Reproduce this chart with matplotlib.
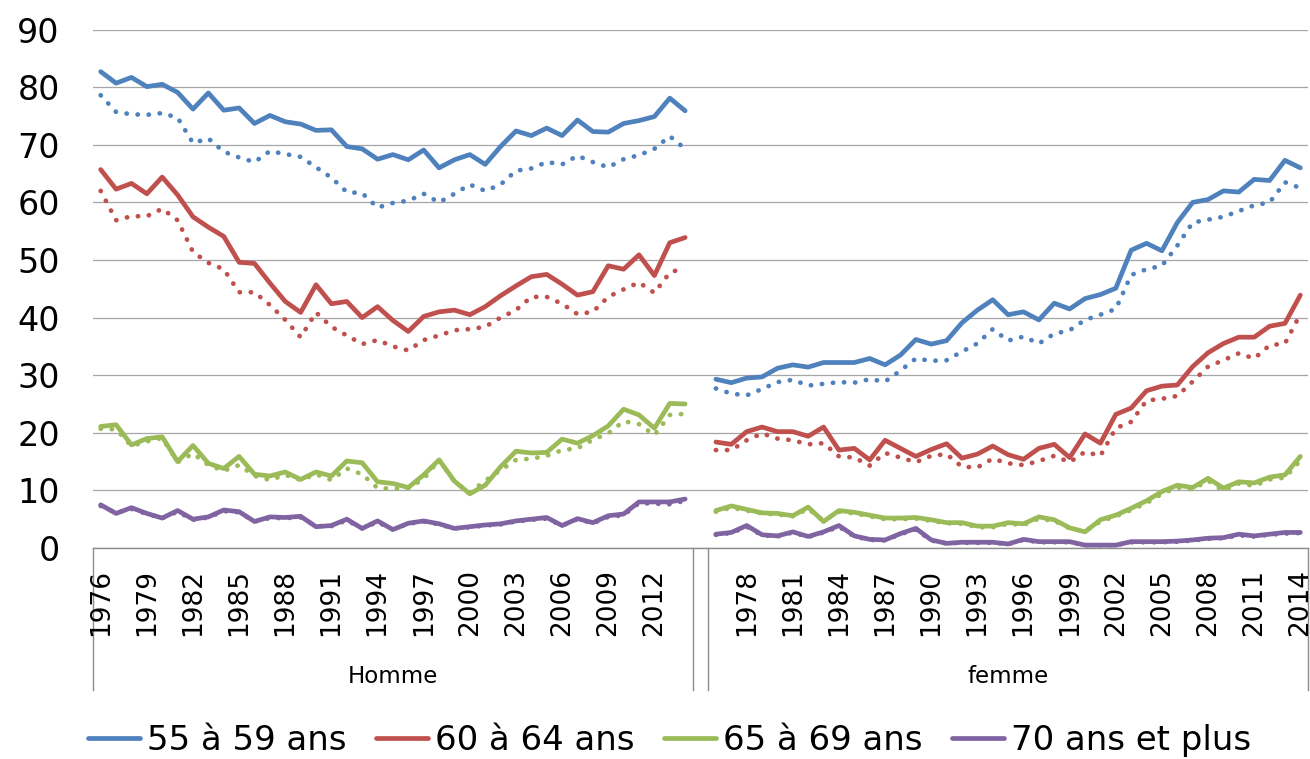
import matplotlib
matplotlib.use("Agg")
import matplotlib.pyplot as plt
import numpy as np

# ---- data -------------------------------------------------------------
YEARS = list(range(1976, 2015))
GROUPS = ["Homme", "femme"]
SERIES = ["55 à 59 ans", "60 à 64 ans", "65 à 69 ans", "70 ans et plus"]
COLORS = ["#4F81BD", "#C0504D", "#9BBB59", "#8064A2"]

# Homme, solid lines
h_55 = [82.7, 80.7, 81.7, 80.1, 80.5, 79.1, 76.2, 79.0, 76.0, 76.4, 73.7, 75.1, 74.0,
        73.6, 72.5, 72.6, 69.7, 69.3, 67.5, 68.3, 67.4, 69.1, 66.0, 67.4, 68.3, 66.6,
        69.7, 72.4, 71.6, 72.9, 71.6, 74.3, 72.3, 72.2, 73.7, 74.2, 74.9, 78.1, 75.9]
h_60 = [65.7, 62.3, 63.3, 61.5, 64.4, 61.3, 57.5, 55.7, 54.1, 49.6, 49.4, 46.0, 42.8,
        40.9, 45.7, 42.4, 42.8, 40.0, 41.9, 39.5, 37.6, 40.2, 41.0, 41.3, 40.5, 41.9,
        43.8, 45.5, 47.1, 47.5, 45.8, 43.9, 44.5, 49.0, 48.4, 50.9, 47.3, 53.0, 53.9]
h_65 = [21.1, 21.4, 17.9, 19.0, 19.3, 15.0, 17.8, 14.7, 13.8, 15.9, 12.8, 12.5, 13.2,
        11.9, 13.2, 12.5, 15.1, 14.8, 11.5, 11.2, 10.5, 12.7, 15.3, 11.6, 9.4, 10.9,
        14.1, 16.8, 16.5, 16.6, 18.9, 18.2, 19.5, 21.2, 24.1, 23.1, 20.8, 25.1, 25.0]
h_70 = [7.5, 6.0, 7.0, 6.0, 5.2, 6.5, 5.0, 5.4, 6.6, 6.3, 4.6, 5.4, 5.3,
        5.5, 3.7, 3.9, 5.0, 3.4, 4.7, 3.2, 4.3, 4.7, 4.2, 3.4, 3.7, 4.0,
        4.2, 4.7, 5.0, 5.3, 3.9, 5.1, 4.4, 5.6, 5.9, 8.0, 8.0, 8.0, 8.5]

# Homme, dotted lines
h_55_dot = [78.6, 75.7, 75.3, 75.2, 75.5, 74.7, 70.3, 71.1, 68.8, 67.8, 67.0, 68.9, 68.4,
            67.9, 66.1, 64.3, 61.8, 61.6, 59.1, 59.9, 60.3, 61.5, 60.0, 61.5, 63.1, 62.0,
            63.1, 65.5, 65.9, 67.0, 66.6, 68.1, 67.0, 66.1, 67.5, 68.2, 69.3, 71.5, 69.3]
h_60_dot = [62.0, 56.9, 57.6, 57.6, 58.9, 56.9, 51.4, 49.5, 48.4, 44.4, 44.4, 42.2, 39.6,
            36.6, 40.9, 38.4, 36.9, 35.4, 36.1, 35.0, 34.3, 36.1, 36.9, 37.8, 38.0, 38.4,
            40.0, 41.3, 43.6, 43.6, 42.4, 40.6, 41.0, 43.6, 44.9, 46.1, 44.3, 47.8, 48.7]
h_65_dot = [20.7, 20.6, 17.7, 18.5, 19.1, 14.9, 16.4, 14.4, 13.4, 14.4, 12.5, 11.8, 12.7,
            11.8, 12.8, 11.8, 13.8, 12.8, 10.4, 10.3, 10.4, 12.0, 15.3, 11.5, 9.6, 11.7,
            13.5, 15.3, 15.5, 16.0, 17.0, 17.3, 18.8, 19.9, 22.0, 21.5, 19.6, 23.1, 23.3]
h_70_dot = [7.3, 6.1, 6.8, 5.9, 5.2, 6.3, 4.9, 5.3, 6.4, 6.2, 4.6, 5.2, 5.2,
            5.3, 3.8, 3.8, 4.8, 3.4, 4.5, 3.2, 4.2, 4.6, 4.1, 3.4, 3.6, 3.9,
            4.1, 4.6, 4.9, 5.1, 3.9, 5.0, 4.3, 5.4, 5.7, 7.8, 7.7, 7.6, 8.2]

# femme, solid lines
f_55 = [29.3, 28.7, 29.5, 29.7, 31.2, 31.8, 31.4, 32.2, 32.2, 32.2, 32.9, 31.8, 33.5,
        36.2, 35.4, 36.0, 39.1, 41.3, 43.1, 40.5, 41.0, 39.6, 42.5, 41.5, 43.3, 44.0,
        45.1, 51.7, 52.9, 51.6, 56.5, 60.0, 60.5, 62.0, 61.8, 64.0, 63.8, 67.3, 66.0]
f_60 = [18.4, 18.0, 20.2, 21.0, 20.2, 20.2, 19.4, 21.0, 17.0, 17.3, 15.3, 18.7, 17.3,
        15.9, 17.1, 18.1, 15.6, 16.3, 17.7, 16.2, 15.4, 17.3, 18.0, 15.7, 19.8, 18.2,
        23.2, 24.3, 27.3, 28.1, 28.3, 31.5, 33.9, 35.5, 36.6, 36.6, 38.5, 39.0, 43.9]
f_65 = [6.5, 7.3, 6.7, 6.1, 6.0, 5.6, 7.1, 4.6, 6.5, 6.2, 5.7, 5.2, 5.2,
        5.3, 4.9, 4.4, 4.4, 3.8, 3.8, 4.4, 4.2, 5.4, 4.9, 3.5, 2.8, 4.9,
        5.7, 6.9, 8.2, 9.8, 10.9, 10.5, 12.1, 10.4, 11.5, 11.3, 12.3, 12.7, 15.9]
f_70 = [2.4, 2.7, 3.9, 2.3, 2.1, 2.8, 2.0, 2.8, 3.9, 2.1, 1.5, 1.4, 2.5,
        3.4, 1.4, 0.8, 1.0, 1.0, 1.0, 0.7, 1.5, 1.1, 1.1, 1.1, 0.5, 0.5,
        0.5, 1.1, 1.1, 1.1, 1.2, 1.4, 1.7, 1.8, 2.4, 2.1, 2.4, 2.7, 2.7]

# femme, dotted lines
f_55_dot = [27.7, 26.8, 26.5, 27.6, 28.8, 29.2, 28.2, 28.5, 28.8, 28.7, 29.3, 28.9, 30.8,
            32.9, 32.5, 32.6, 34.1, 35.5, 38.0, 36.0, 36.7, 35.5, 37.2, 37.8, 39.6, 40.5,
            41.5, 47.4, 48.4, 49.0, 52.5, 56.5, 57.0, 57.5, 58.5, 59.5, 60.0, 63.5, 62.5]
f_60_dot = [17.0, 17.0, 18.7, 19.9, 19.0, 18.7, 18.0, 18.2, 15.9, 15.7, 14.3, 16.5, 15.7,
            14.9, 16.0, 16.3, 14.1, 14.0, 15.5, 14.7, 14.4, 15.1, 16.0, 14.9, 16.7, 16.0,
            20.8, 21.9, 25.6, 25.9, 26.4, 28.9, 31.5, 32.6, 33.8, 32.9, 35.2, 35.5, 40.6]
f_65_dot = [6.3, 7.0, 6.5, 6.0, 5.8, 5.5, 6.8, 4.7, 6.3, 6.0, 5.5, 5.0, 5.0,
            5.1, 4.7, 4.3, 4.2, 3.6, 3.6, 4.2, 4.0, 5.1, 4.7, 3.4, 2.9, 4.6,
            5.5, 6.6, 7.8, 9.4, 10.5, 10.2, 11.7, 9.9, 11.2, 10.8, 11.9, 12.2, 15.2]
f_70_dot = [2.3, 2.6, 3.7, 2.2, 2.0, 2.7, 1.9, 2.7, 3.7, 2.0, 1.4, 1.3, 2.4,
            3.2, 1.3, 0.8, 0.9, 0.9, 0.9, 0.7, 1.4, 1.0, 1.0, 1.0, 0.5, 0.5,
            0.5, 1.0, 1.0, 1.0, 1.1, 1.3, 1.6, 1.7, 2.2, 2.0, 2.3, 2.5, 2.6]

SOLID = {"Homme": [h_55, h_60, h_65, h_70], "femme": [f_55, f_60, f_65, f_70]}
DOTTED = {"Homme": [h_55_dot, h_60_dot, h_65_dot, h_70_dot],
          "femme": [f_55_dot, f_60_dot, f_65_dot, f_70_dot]}

# ---- style ------------------------------------------------------------
plt.rcParams.update({
    "font.family": "DejaVu Sans",
    "axes.spines.top": False,
    "axes.spines.right": False,
    "axes.spines.left": False,
})
LINE_W = 3.4
DOTS = (0, (0.05, 2.3))
AXIS_GRAY = "#8c8c8c"

fig = plt.figure(figsize=(13.10, 7.59), dpi=100)
ax = fig.add_axes([0.071, 0.278, 0.9275, 0.683])

# categories: Homme years, one empty slot, femme years
categories = [str(y) for y in YEARS] + [""] + [str(y) for y in YEARS]
n_cat = len(categories)
offsets = {"Homme": 0, "femme": len(YEARS) + 1}

for g in GROUPS:
    x = np.arange(len(YEARS)) + offsets[g]
    for vals, col in zip(SOLID[g], COLORS):
        ax.plot(x, vals, color=col, lw=LINE_W, solid_joinstyle="round",
                solid_capstyle="round", zorder=3)
    for vals, col in zip(DOTTED[g], COLORS):
        ax.plot(x, vals, color=col, lw=LINE_W, linestyle=DOTS,
                dash_capstyle="round", zorder=4)

ax.set_xlim(-0.5, n_cat - 0.5)
ax.set_ylim(0, 90)
ax.set_yticks(np.arange(0, 91, 10))
ax.tick_params(axis="y", length=0, pad=24, labelsize=24)
ax.grid(axis="y", color="#a6a6a6", linewidth=0.9, zorder=0)
ax.spines["bottom"].set_color(AXIS_GRAY)
ax.spines["bottom"].set_linewidth(1.0)

# year labels every third category
tick_pos = [i for i in range(n_cat) if i % 3 == 0 and categories[i]]
ax.set_xticks(tick_pos)
ax.set_xticklabels([categories[i] for i in tick_pos], rotation=90,
                   va="top", ha="center", fontsize=19)
ax.tick_params(axis="x", length=0, pad=15)

# group boundaries and labels under the axis
trans = ax.get_xaxis_transform()
depth = -0.274
bounds = [-0.5, len(YEARS) - 0.5, len(YEARS) + 0.5, n_cat - 0.5]
for b in bounds:
    ax.plot([b, b], [0, depth], transform=trans, color=AXIS_GRAY, lw=1.0,
            clip_on=False, zorder=1)
for g in GROUPS:
    mid = offsets[g] + (len(YEARS) - 1) / 2
    ax.text(mid, -0.248, g, transform=trans, ha="center", va="center",
            fontsize=16.5)

# legend (solid series only)
handles = [plt.Line2D([], [], color=c, lw=LINE_W, solid_capstyle="round")
           for c in COLORS]
fig.legend(handles, SERIES, loc="center", bbox_to_anchor=(0.511, 0.025),
           ncol=4, frameon=False, fontsize=24.5, handlelength=1.55,
           handletextpad=0.2, columnspacing=0.85, borderaxespad=0)

fig.savefig("out.png", dpi=100)
